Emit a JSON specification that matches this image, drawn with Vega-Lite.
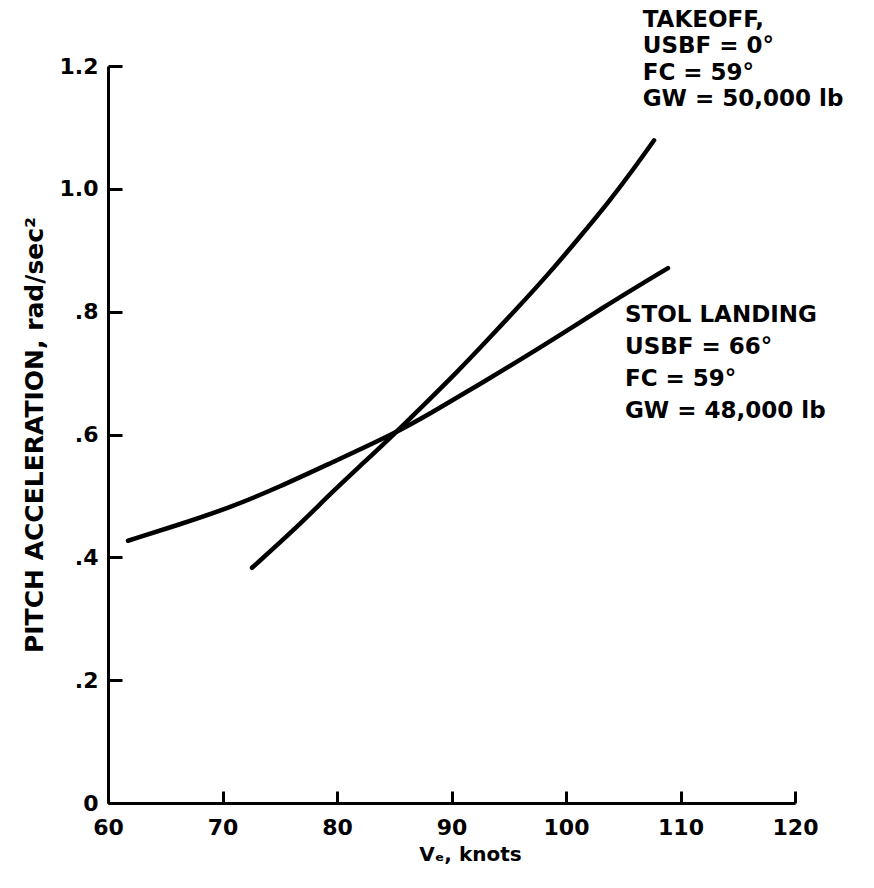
{
  "$schema": "https://vega.github.io/schema/vega-lite/v6.json",
  "width": 687,
  "height": 737,
  "autosize": "none",
  "padding": {"left": 108, "top": 66, "right": 79, "bottom": 85},
  "background": "white",
  "config": {"view": {"stroke": null}, "font": "DejaVu Sans"},
  "layer": [
    {
      "data": {
        "values": [
          {"series": "TAKEOFF", "v": 72.58, "a": 0.383},
          {"series": "TAKEOFF", "v": 76.51, "a": 0.449},
          {"series": "TAKEOFF", "v": 79.39, "a": 0.503},
          {"series": "TAKEOFF", "v": 82.27, "a": 0.553},
          {"series": "TAKEOFF", "v": 85.07, "a": 0.602},
          {"series": "TAKEOFF", "v": 88.12, "a": 0.658},
          {"series": "TAKEOFF", "v": 90.5, "a": 0.702},
          {"series": "TAKEOFF", "v": 92.75, "a": 0.746},
          {"series": "TAKEOFF", "v": 95.72, "a": 0.805},
          {"series": "TAKEOFF", "v": 98.60, "a": 0.864},
          {"series": "TAKEOFF", "v": 101.05, "a": 0.918},
          {"series": "TAKEOFF", "v": 103.84, "a": 0.981},
          {"series": "TAKEOFF", "v": 105.85, "a": 1.031},
          {"series": "TAKEOFF", "v": 107.69, "a": 1.079},
          {"series": "STOL", "v": 61.75, "a": 0.427},
          {"series": "STOL", "v": 66.0, "a": 0.452},
          {"series": "STOL", "v": 70.66, "a": 0.481},
          {"series": "STOL", "v": 75.02, "a": 0.515},
          {"series": "STOL", "v": 79.39, "a": 0.553},
          {"series": "STOL", "v": 85.07, "a": 0.602},
          {"series": "STOL", "v": 88.12, "a": 0.634},
          {"series": "STOL", "v": 92.49, "a": 0.682},
          {"series": "STOL", "v": 98.60, "a": 0.751},
          {"series": "STOL", "v": 102.97, "a": 0.804},
          {"series": "STOL", "v": 108.91, "a": 0.871}
        ]
      },
      "mark": {"type": "line", "color": "black", "strokeWidth": 4.5, "strokeCap": "round", "interpolate": "basis"},
      "encoding": {
        "x": {
          "field": "v", "type": "quantitative",
          "scale": {"domain": [60, 120], "nice": false, "zero": false},
          "axis": {
            "values": [60, 70, 80, 90, 100, 110, 120],
            "grid": false,
            "tickSize": -12, "tickWidth": 3, "tickColor": "black",
            "domainWidth": 3, "domainColor": "black",
            "labelFont": "DejaVu Sans", "labelFontWeight": "bold", "labelFontSize": 22, "labelColor": "black",
            "labelPadding": 26, "labelFlush": false,
            "title": "Vₑ, knots", "titleFont": "DejaVu Sans", "titleFontWeight": "bold", "titleFontSize": 20, "titleColor": "black",
            "titlePadding": 6, "titleX": 362
          }
        },
        "y": {
          "field": "a", "type": "quantitative",
          "scale": {"domain": [0, 1.2], "nice": false, "zero": true},
          "axis": {
            "values": [0, 0.2, 0.4, 0.6, 0.8, 1.0, 1.2],
            "labelExpr": "datum.value === 0 ? '0' : datum.value < 0.99 ? replace(format(datum.value, '.1f'), '0.', '.') : format(datum.value, '.1f')",
            "grid": false,
            "tickSize": -14, "tickWidth": 3, "tickColor": "black",
            "domainWidth": 3, "domainColor": "black",
            "labelFont": "DejaVu Sans", "labelFontWeight": "bold", "labelFontSize": 22, "labelColor": "black",
            "labelPadding": 24, "labelFlush": false,
            "title": "PITCH ACCELERATION, rad/sec²", "titleFont": "DejaVu Sans", "titleFontWeight": "bold", "titleFontSize": 25, "titleColor": "black",
            "titlePadding": 12
          }
        },
        "detail": {"field": "series"}
      }
    },
    {
      "data": {"values": [{"v": 106.7, "a": 1.293, "label": ["TAKEOFF,", "USBF = 0°", "FC = 59°", "GW = 50,000 lb"]}]},
      "mark": {"type": "text", "align": "left", "baseline": "top", "font": "DejaVu Sans", "fontSize": 23, "fontWeight": "bold", "lineHeight": 26.5, "color": "black"},
      "encoding": {
        "x": {"field": "v", "type": "quantitative"},
        "y": {"field": "a", "type": "quantitative"},
        "text": {"field": "label"}
      }
    },
    {
      "data": {"values": [{"v": 105.15, "a": 0.8125, "label": ["STOL LANDING", "USBF = 66°", "FC = 59°", "GW = 48,000 lb"]}]},
      "mark": {"type": "text", "align": "left", "baseline": "top", "font": "DejaVu Sans", "fontSize": 23, "fontWeight": "bold", "lineHeight": 32, "color": "black"},
      "encoding": {
        "x": {"field": "v", "type": "quantitative"},
        "y": {"field": "a", "type": "quantitative"},
        "text": {"field": "label"}
      }
    }
  ]
}
